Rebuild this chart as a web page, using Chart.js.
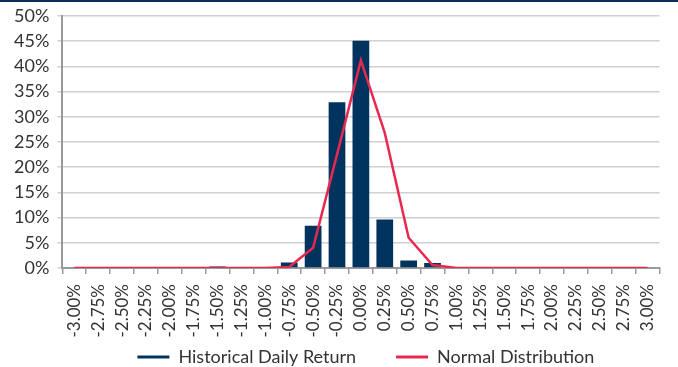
<!DOCTYPE html>
<html>
<head>
<meta charset="utf-8">
<script src="https://cdn.jsdelivr.net/npm/chart.js@4.4.0/dist/chart.umd.min.js"></script>
<style>
  html, body { margin: 0; padding: 0; background: #fff; }
  #wrap { width: 678px; height: 365px; border-top: 2px solid #0a2f5a; }
</style>
</head>
<body>
<div id="wrap"><canvas id="chart-hist"></canvas></div>
<script>
// categorias del eje x
const labels_n = ["-3.00%", "-2.75%", "-2.50%", "-2.25%", "-2.00%", "-1.75%", "-1.50%", "-1.25%", "-1.00%",
  "-0.75%", "-0.50%", "-0.25%", "0.00%", "0.25%", "0.50%", "0.75%", "1.00%", "1.25%", "1.50%",
  "1.75%", "2.00%", "2.25%", "2.50%", "2.75%", "3.00%"];

// Historical Daily Return (%)
const data_hist = [0, 0, 0, 0, 0, 0, 0.3, 0, 0, 1.1, 8.4, 32.9, 45.1, 9.6, 1.5, 1.0, 0, 0, 0, 0, 0, 0, 0, 0, 0];

// Normal Distribution (%)
const data_norm = [0, 0, 0, 0, 0, 0, 0, 0, 0, 0.2, 4.0, 22.5, 41.2, 26.8, 6.0, 0.6, 0, 0, 0, 0, 0, 0, 0, 0, 0];

const navy = "#00345f";
const red = "#e8294f";

const LEGEND_PAD = 40;   // espacio horizontal entre items
const LEGEND_CENTER = 355; // centro vertical del texto de la leyenda (px canvas)

Chart.defaults.font.family = "Lato, sans-serif";
Chart.defaults.font.size = 17;
Chart.defaults.color = "#333";

// mueve la leyenda hacia abajo y la centra sobre el area del grafico
const legendShift = {
  id: "legendShift",
  afterLayout(chart) {
    const lg = chart.legend;
    if (!lg) return;
    lg.top = LEGEND_CENTER - LEGEND_PAD - 9;
    lg.bottom = chart.height;
    lg.height = lg.bottom - lg.top;
    const area = chart.chartArea;
    const dx = (area.left + area.right) / 2 - chart.width / 2 + 4;
    lg.left += dx;
    lg.right += dx;
  },
};

const ctx = document.getElementById("chart-hist").getContext("2d");
let myChart = new Chart(ctx, {
  type: "bar",
  data: {
    labels: labels_n,
    datasets: [
      {
        type: "line",
        label: "Normal Distribution",
        data: data_norm,
        borderColor: red,
        backgroundColor: red,
        borderWidth: 2.5,
        pointRadius: 0,
        tension: 0,
        order: 0,
      },
      {
        label: "Historical Daily Return",
        data: data_hist,
        backgroundColor: navy,
        borderWidth: 0,
        categoryPercentage: 1,
        barPercentage: 0.7,
        order: 1,
      },
    ],
  },
  options: {
    responsive: true,
    maintainAspectRatio: false,
    animation: false,
    layout: { padding: { top: 14, right: 4, left: 6, bottom: 0 } },
    plugins: {
      tooltip: { enabled: false },
      legend: {
        position: "bottom",
        reverse: true,
        maxHeight: 30,
        labels: {
          boxWidth: 32,
          boxHeight: 3,
          padding: LEGEND_PAD,
          color: "#333",
          font: { size: 18 },
          generateLabels: (chart) =>
            Chart.defaults.plugins.legend.labels.generateLabels(chart).map((it) => ({ ...it, lineWidth: 0 })),
        },
      },
    },
    scales: {
      x: {
        grid: { drawOnChartArea: false, drawTicks: true, tickLength: 6, color: "#9a9a9a", lineWidth: 1.5 },
        border: { color: "#9a9a9a", width: 2 },
        ticks: { minRotation: 90, maxRotation: 90, autoSkip: false, padding: 10, color: "#333" },
        afterFit: (axis) => { axis.height = 69; },
      },
      y: {
        min: 0,
        max: 50,
        grid: { color: "#d0d0d0", lineWidth: 1.5, tickLength: 5 },
        border: { color: "#9a9a9a", width: 2 },
        ticks: {
          stepSize: 5,
          padding: 8,
          autoSkip: false,
          color: "#333",
          font: { size: 18 },
          callback: (v) => v + "%",
        },
        afterFit: (axis) => { axis.paddingTop = 0; },
      },
    },
  },
  plugins: [legendShift],
});
</script>
</body>
</html>
